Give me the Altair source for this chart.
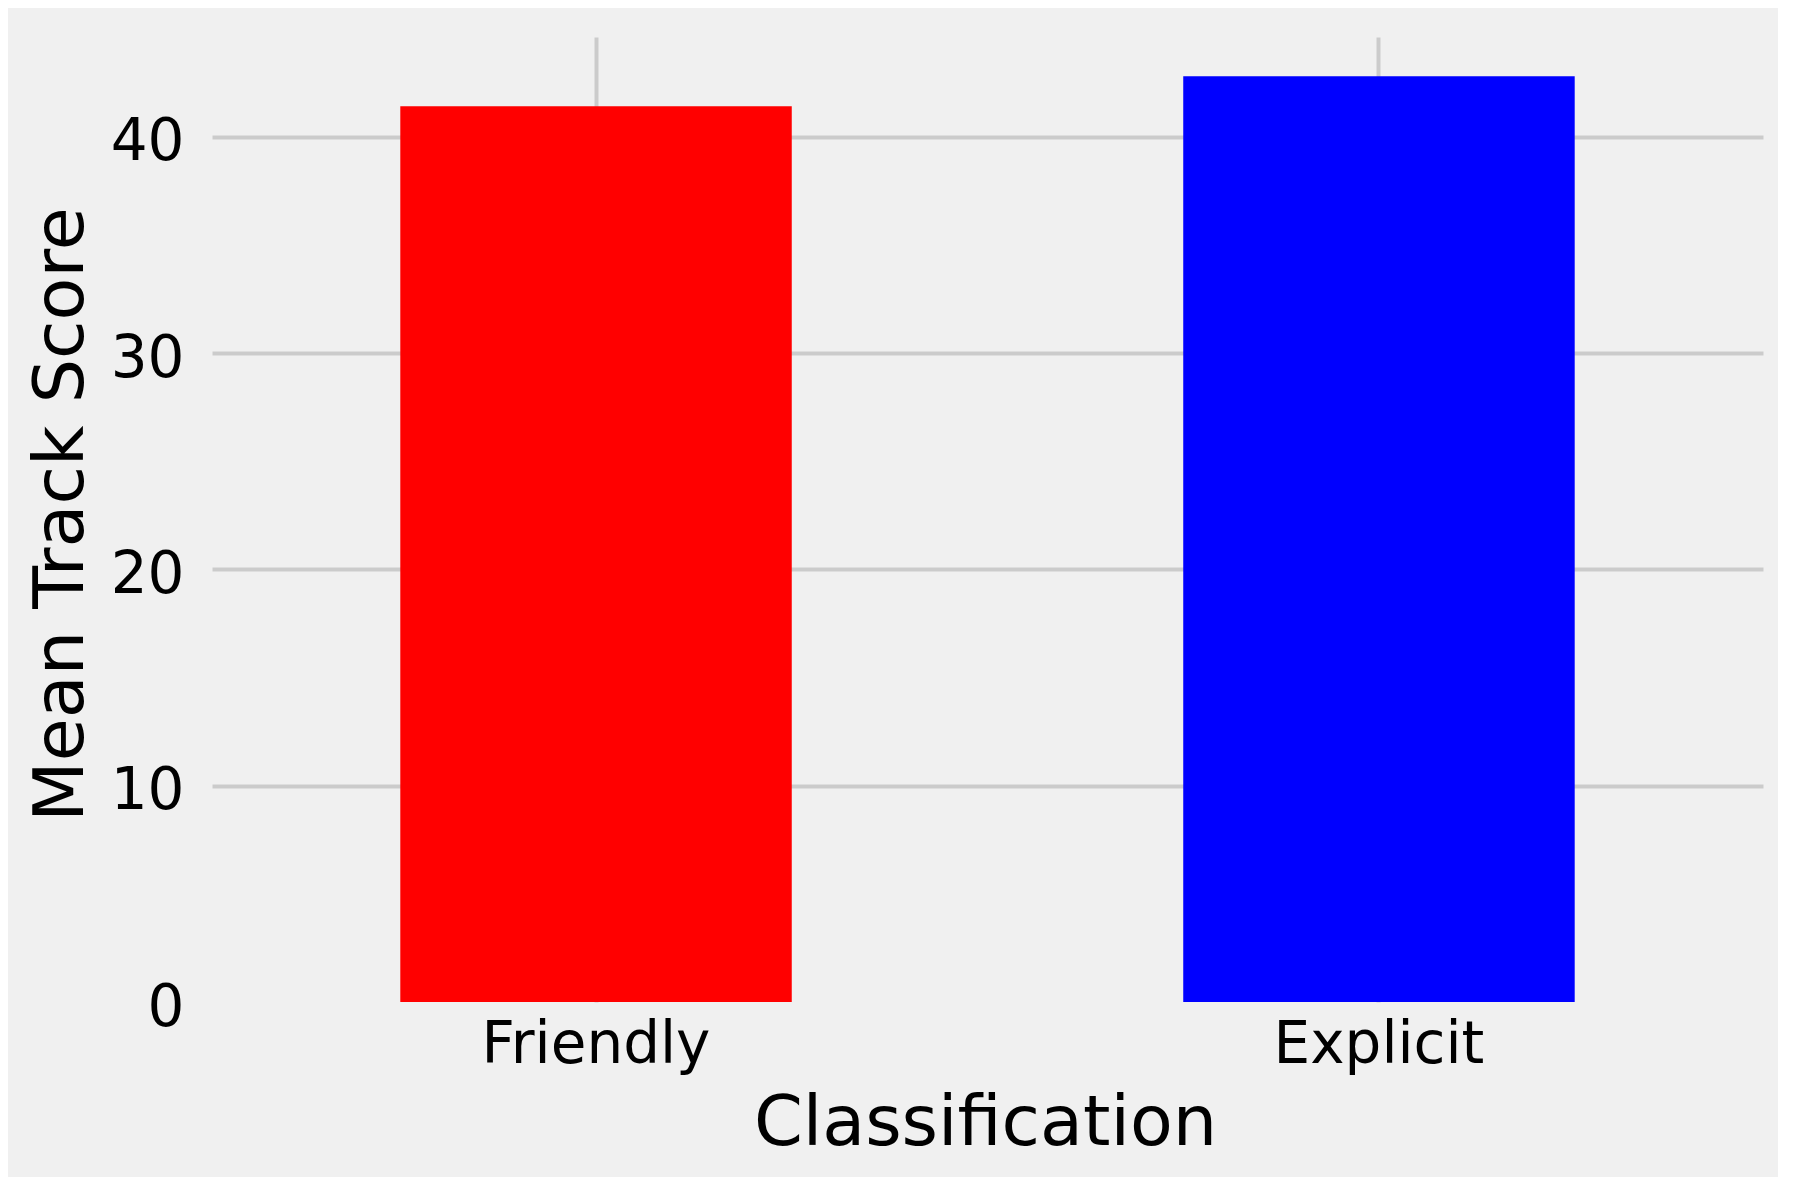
import altair as alt
import pandas as pd

categories = ["Friendly", "Explicit"]
values = [41.42, 42.81]
bar_colors = ["#ff0000", "#0000ff"]
y_ticks = [0, 10, 20, 30, 40]

df = pd.DataFrame({"Classification": categories, "Mean Track Score": values})

FONT = "DejaVu Sans"
GRID = "#cbcbcb"
BG = "#f0f0f0"

bars = alt.Chart(df).mark_bar().encode(
    x=alt.X(
        "Classification:N",
        sort=categories,
        scale=alt.Scale(paddingInner=0.5, paddingOuter=0.2405),
        axis=alt.Axis(
            title="Classification",
            labelAngle=0,
            labelFontSize=58,
            labelFont=FONT,
            labelColor="black",
            labelPadding=14,
            labelLimit=0,
            ticks=False,
            tickSize=0,
            domain=False,
            grid=True,
            gridColor=GRID,
            gridWidth=4,
            bandPosition=0.5,
            titleFont=FONT,
            titleFontSize=70,
            titleFontWeight="normal",
            titleColor="black",
            titleBaseline="alphabetic",
            titleY=142,
            titleX=773,
        ),
    ),
    y=alt.Y(
        "Mean Track Score:Q",
        scale=alt.Scale(domain=[0, 44.624], nice=False),
        axis=alt.Axis(
            title="Mean Track Score",
            values=y_ticks,
            labelFontSize=58,
            labelFont=FONT,
            labelColor="black",
            labelPadding=28,
            labelOffset=6,
            labelLimit=0,
            ticks=False,
            tickSize=0,
            domain=False,
            grid=True,
            gridColor=GRID,
            gridWidth=4,
            gridOpacity={"condition": {"test": "datum.value === 0", "value": 0}, "value": 1},
            titleFont=FONT,
            titleFontSize=70,
            titleFontWeight="normal",
            titleColor="black",
            titleBaseline="alphabetic",
            titleX=-130,
            titleY=477,
        ),
    ),
    color=alt.Color(
        "Classification:N",
        scale=alt.Scale(domain=categories, range=bar_colors),
        legend=None,
    ),
)

chart = bars.properties(
    width=1551,
    height=965,
    background=BG,
    autosize=alt.AutoSizeParams(type="none"),
    padding={"left": 204, "top": 29, "right": 15, "bottom": 175},
).configure_view(strokeWidth=0, fill=BG)

chart.save("out.html", embed_options={"renderer": "svg", "actions": False})
